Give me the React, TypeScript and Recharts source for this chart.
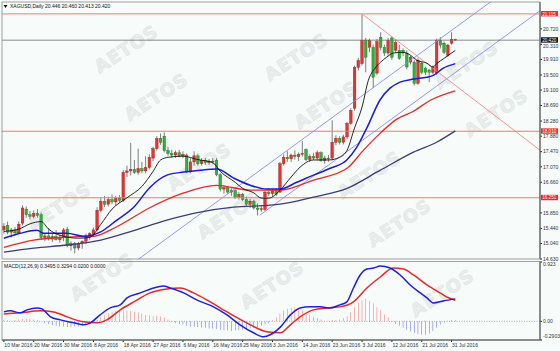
import React from "react";
import { ComposedChart, Bar, Line, XAxis, YAxis, ReferenceLine, Cell } from "recharts";

// daily candles, [open, high, low, close]
const candles: [number, number, number, number][] = [
  [15.40, 15.58, 15.30, 15.50], [15.52, 15.62, 15.28, 15.34], [15.34, 15.45, 15.20, 15.40], [15.40, 15.48, 15.25, 15.32],
  [15.32, 15.62, 15.30, 15.55], [15.58, 16.05, 15.52, 15.98], [15.95, 16.02, 15.72, 15.80], [15.80, 15.90, 15.68, 15.76],
  [15.76, 15.92, 15.70, 15.84], [15.84, 15.95, 15.72, 15.78], [15.80, 15.86, 15.15, 15.20], [15.20, 15.30, 15.10, 15.24],
  [15.24, 15.45, 15.12, 15.16], [15.16, 15.30, 15.08, 15.22], [15.22, 15.40, 15.12, 15.14], [15.14, 15.28, 15.06, 15.20],
  [15.20, 15.45, 15.10, 15.40], [15.42, 15.48, 14.94, 14.98], [14.98, 15.10, 14.85, 15.04], [15.04, 15.08, 14.78, 14.92],
  [14.92, 15.08, 14.86, 15.04], [15.04, 15.12, 14.90, 15.10], [15.10, 15.30, 15.02, 15.24], [15.24, 15.34, 15.14, 15.30],
  [15.30, 15.46, 15.22, 15.40], [15.40, 16.00, 15.36, 15.92], [15.92, 16.26, 15.86, 16.16], [16.16, 16.30, 16.00, 16.08],
  [16.08, 16.28, 16.02, 16.20], [16.20, 16.34, 16.08, 16.14], [16.14, 16.30, 16.04, 16.24], [16.24, 16.32, 16.12, 16.18],
  [16.18, 16.98, 16.14, 16.92], [16.92, 17.10, 16.80, 16.96], [16.96, 17.70, 16.84, 17.00], [17.00, 17.25, 16.88, 16.92],
  [16.92, 17.55, 16.86, 17.02], [17.02, 17.20, 16.90, 16.96], [16.96, 17.35, 16.90, 17.05], [17.05, 17.40, 17.00, 17.32],
  [17.30, 17.60, 17.22, 17.55], [17.55, 17.88, 17.50, 17.82], [17.82, 17.95, 17.65, 17.72], [17.88, 17.98, 17.45, 17.50],
  [17.50, 17.60, 17.36, 17.42], [17.42, 17.52, 17.30, 17.38], [17.38, 17.50, 17.30, 17.44], [17.44, 17.52, 17.32, 17.36],
  [17.36, 17.48, 17.30, 17.40], [17.38, 17.42, 16.90, 16.95], [16.95, 17.30, 16.90, 17.20], [17.20, 17.48, 17.10, 17.36],
  [17.36, 17.42, 17.10, 17.15], [17.15, 17.30, 17.10, 17.24], [17.24, 17.30, 17.12, 17.18], [17.18, 17.28, 17.12, 17.22],
  [17.22, 17.30, 17.14, 17.20], [17.24, 17.30, 16.82, 16.86], [16.86, 16.90, 16.42, 16.48], [16.48, 16.58, 16.36, 16.52],
  [16.52, 16.56, 16.36, 16.40], [16.40, 16.50, 16.30, 16.44], [16.44, 16.48, 16.22, 16.26], [16.26, 16.40, 16.20, 16.34],
  [16.34, 16.38, 16.16, 16.20], [16.20, 16.28, 16.02, 16.08], [16.08, 16.22, 15.98, 16.16], [16.16, 16.20, 15.94, 15.98],
  [15.98, 16.10, 15.78, 15.94], [15.94, 16.04, 15.88, 15.96], [15.94, 16.44, 15.90, 16.40], [16.40, 16.50, 16.30, 16.36],
  [16.36, 16.48, 16.28, 16.44], [16.44, 16.50, 16.30, 16.34], [16.40, 17.20, 16.38, 17.15], [17.15, 17.40, 17.10, 17.32],
  [17.32, 17.48, 17.20, 17.28], [17.28, 17.42, 17.20, 17.38], [17.38, 17.50, 17.26, 17.34], [17.34, 17.45, 17.22, 17.40],
  [17.40, 17.75, 17.34, 17.42], [17.52, 17.56, 17.22, 17.26], [17.26, 17.40, 17.20, 17.34], [17.34, 17.44, 17.25, 17.30],
  [17.30, 17.50, 17.24, 17.44], [17.44, 17.48, 17.20, 17.24], [17.24, 17.36, 17.15, 17.30], [17.30, 17.38, 17.20, 17.28],
  [17.30, 18.30, 17.24, 17.72], [17.72, 17.90, 17.64, 17.82], [17.82, 17.88, 17.66, 17.72], [17.72, 17.92, 17.66, 17.86],
  [17.86, 18.26, 17.80, 18.22], [18.22, 18.62, 18.18, 18.56], [18.62, 19.75, 18.55, 19.70], [19.70, 19.95, 19.62, 19.88],
  [19.80, 21.10, 19.75, 20.42], [20.42, 20.48, 19.57, 19.97], [20.23, 20.46, 20.10, 20.42], [20.23, 20.30, 19.15, 19.44],
  [19.55, 20.45, 19.50, 20.38], [20.50, 20.63, 20.15, 20.23], [20.23, 20.30, 20.00, 20.08], [20.08, 20.48, 20.00, 20.42],
  [20.48, 20.52, 19.90, 19.97], [20.15, 20.42, 20.08, 20.36], [20.15, 20.30, 19.90, 19.94], [20.15, 20.20, 20.00, 20.08],
  [20.08, 20.15, 19.65, 19.71], [19.84, 20.00, 19.78, 19.97], [19.84, 19.90, 19.22, 19.28], [19.28, 19.95, 19.24, 19.89],
  [19.81, 19.85, 19.52, 19.57], [19.68, 19.72, 19.50, 19.57], [19.63, 19.66, 19.31, 19.57], [19.57, 19.75, 19.52, 19.71],
  [19.55, 20.46, 19.50, 20.42], [20.42, 20.50, 20.20, 20.29], [20.34, 20.38, 20.05, 20.10], [20.02, 20.32, 19.98, 20.29],
  [20.34, 20.63, 20.30, 20.44], [20.446, 20.46, 20.413, 20.42],
];

const dateTicks = [0, 8, 16, 24, 32, 40, 48, 56, 64, 72, 80, 88, 96, 104, 112, 120];
const dateLabels = [
  "10 Mar 2016", "20 Mar 2016", "30 Mar 2016", "8 Apr 2016", "18 Apr 2016", "27 Apr 2016", "6 May 2016", "16 May 2016",
  "25 May 2016", "3 Jun 2016", "14 Jun 2016", "23 Jun 2016", "3 Jul 2016", "12 Jul 2016", "21 Jul 2016", "31 Jul 2016",
];

const priceTicks = [14.63, 15.04, 15.44, 15.85, 16.66, 17.07, 17.47, 17.88, 18.28, 18.69, 19.1, 19.5, 19.91, 20.31, 20.72];
const macdTicks = [-0.2903, 0, 0.923];

// moving averages, [bar, value]
const maFast: [number, number][] = [
  [0, 15.36], [4, 15.42], [7, 15.56], [10, 15.62], [12, 15.42], [15, 15.26], [20, 15.18], [23, 15.2], [26, 15.55],
  [29, 15.95], [33, 16.25], [37, 16.55], [40, 16.95], [42, 17.25], [44, 17.32], [48, 17.35], [52, 17.26], [56, 17.18],
  [58, 16.95], [62, 16.66], [64, 16.5], [67, 16.38], [69, 16.24], [71, 16.24], [74, 16.45], [77, 16.8], [79.4, 17.06],
  [83, 17.25], [87, 17.25], [90, 17.32], [92, 17.51], [94, 18.1], [96, 18.65], [97.7, 19.36], [99.5, 19.68], [101, 19.84],
  [102.6, 19.97], [104.4, 20.08], [107, 20.1], [109, 20.02], [110.7, 19.89], [113.4, 19.81], [115, 19.71], [116, 19.8],
  [118, 19.94], [121, 20.15],
];
const maMid: [number, number][] = [
  [0, 15.18], [4.4, 15.31], [8.9, 15.39], [10.7, 15.31], [16.9, 15.31], [21.4, 15.23], [25.8, 15.34], [30.3, 15.66],
  [34.8, 16.0], [39.2, 16.53], [43.7, 16.85], [48.2, 16.93], [52.6, 16.98], [57.1, 17.01], [61.6, 16.77], [66, 16.58],
  [70.5, 16.48], [74.1, 16.48], [78.5, 16.66], [83, 16.85], [87.5, 17.03], [91.9, 17.25], [94.6, 17.59], [97.3, 18.1],
  [100.9, 18.85], [103.5, 19.15], [106.2, 19.31], [109.8, 19.39], [113.4, 19.44], [115.1, 19.49], [117.8, 19.68], [121, 19.8],
];
const maSlow: [number, number][] = [
  [0, 14.94], [8, 15.13], [17, 15.21], [24, 15.23], [30, 15.47], [39, 15.98], [48, 16.37], [57, 16.58], [66, 16.45],
  [74, 16.45], [83, 16.72], [92, 17.03], [96.4, 17.51], [100.9, 17.96], [105.3, 18.33], [109.8, 18.54], [114.3, 18.83],
  [121, 19.08],
];
const maLong: [number, number][] = [
  [0, 14.81], [8, 14.92], [17, 15.0], [26, 15.13], [35, 15.39], [43.7, 15.66], [52.6, 15.87], [61.6, 16.0], [70.5, 16.05],
  [74, 16.08], [83, 16.27], [92, 16.5], [100.9, 16.98], [109.8, 17.46], [116, 17.72], [121, 18.02],
];

// MACD(12,26,9)
const macdMain: [number, number][] = [
  [0, 0.147], [1.7, 0.163], [4.4, 0.132], [6.2, 0.178], [8.9, 0.209], [10.2, 0.194], [12.5, 0.07], [15.1, 0.023],
  [18.7, -0.023], [21.4, -0.054], [23.2, -0.023], [25.8, 0.1], [28.5, 0.209], [31.2, 0.256], [33, 0.364], [36.6, 0.442],
  [40.1, 0.519], [42.8, 0.55], [44.6, 0.519], [48.2, 0.442], [51.7, 0.333], [56.2, 0.225], [59.8, 0.1], [63.3, -0.054],
  [66.9, -0.178], [69.6, -0.24], [71.4, -0.209], [74.1, -0.09], [76.8, 0.1], [79.4, 0.209], [82.1, 0.225], [84.8, 0.225],
  [87.5, 0.209], [90.1, 0.256], [91.9, 0.302], [93.7, 0.519], [95.5, 0.721], [97.3, 0.814], [99.1, 0.829], [100.9, 0.86],
  [103.5, 0.829], [106.2, 0.721], [108.9, 0.566], [111.6, 0.442], [113.4, 0.364], [115.1, 0.287], [117.8, 0.318],
  [121, 0.3495],
];
const macdSignal: [number, number][] = [
  [0, 0.116], [4.4, 0.132], [9.8, 0.163], [13.3, 0.147], [16.9, 0.07], [21.4, -0.008], [25, -0.023], [27.6, 0.023],
  [31.2, 0.178], [34.8, 0.302], [39.2, 0.442], [43.7, 0.504], [47.3, 0.519], [50.8, 0.442], [54.4, 0.333], [59.8, 0.147],
  [65.1, -0.023], [70.5, -0.163], [74.1, -0.178], [76.8, -0.054], [79.4, 0.07], [83, 0.178], [86.6, 0.209], [90.1, 0.225],
  [93.7, 0.302], [97.3, 0.519], [100.9, 0.69], [104.4, 0.829], [107.1, 0.814], [109.8, 0.721], [113.4, 0.566],
  [116.9, 0.442], [119, 0.37], [121, 0.3294],
];
const histogram = [
  0.03, 0.02, 0.01, 0.02, 0.03, 0.04, 0.04, 0.04, 0.03, 0.02, 0.0, -0.03,
  -0.04, -0.06, -0.07, -0.08, -0.08, -0.09, -0.09, -0.08, -0.08, -0.07, -0.06, -0.05, -0.03,
  0.02, 0.06, 0.1, 0.13, 0.15, 0.16, 0.16, 0.17, 0.17, 0.16, 0.15, 0.14, 0.12, 0.1, 0.09, 0.08, 0.09, 0.08, 0.06, 0.03,
  -0.01, -0.03, -0.04, -0.05, -0.07, -0.08, -0.08, -0.09, -0.1, -0.1, -0.11, -0.11, -0.12, -0.13, -0.14, -0.14, -0.15,
  -0.14, -0.14, -0.13, -0.12, -0.11, -0.1, -0.09, -0.07, -0.05, -0.03, 0.02,
  0.06, 0.12, 0.17, 0.2, 0.21, 0.21, 0.2, 0.17, 0.14, 0.1, 0.07, 0.05, 0.03,
  0.01, 0.01, 0.02, 0.02, 0.03, 0.05,
  0.08, 0.14, 0.22, 0.29, 0.33, 0.35, 0.32, 0.28, 0.22, 0.17, 0.11, 0.06,
  -0.01, -0.04, -0.07, -0.1, -0.13, -0.16, -0.18, -0.2, -0.21, -0.21, -0.19, -0.15, -0.1, -0.05, -0.02,
  0.01, 0.02, 0.02,
];

// chart objects
const redLevels = [21.115, 18.01, 16.251];
const redLevelLabels = ["21.115", "18.010", "16.251"];
const bidPrice = 20.42;
const channelUpper: [number, number][] = [[35.7, 14.6], [131.1, 21.48]];
const channelLower: [number, number][] = [[68.6, 15.79], [143.7, 21.2]];
const fallLine: [number, number][] = [[96, 21.115], [143.7, 17.51]];

// broker watermark: tile origin and the two step vectors of the tiling
const markOrigin = [142, 74];
const markSteps = [[170, 8], [73, 118]];
const markText = "AETOS";

const X_DOMAIN: [number, number] = [-0.5, 143.7];
const FONT = "'Liberation Sans', Arial, sans-serif";

const candleRows = candles.map(([o, h, l, c], i) => ({ i, o, h, l, c, range: [l, h] }));
const histRows = histogram.map((v, i) => ({ i, v }));
const pts = (a: [number, number][]) => a.map(([i, v]) => ({ i, v }));
const seg = (a: [number, number][]) => a.map(([x, y]) => ({ x, y }));

// keep only the watermark copies that fit wholly on the page
const markSpots: [number, number][] = [];
for (let a = -2; a <= 3; a++) {
  for (let b = -2; b <= 3; b++) {
    const px = markOrigin[0] + a * markSteps[0][0] + b * markSteps[1][0];
    const py = markOrigin[1] + a * markSteps[0][1] + b * markSteps[1][1];
    for (const d of [-1, 1]) {
      const sx = px + d * 15;
      const sy = py + d * 24;
      if (sx > 36 && sx < 524 && sy > 28 && sy < 323) markSpots.push([sx, sy]);
    }
  }
}

const Candle = (props: any) => {
  const { x, y, width, height, payload } = props;
  const { o, h, l, c } = payload;
  const top = height < 0 ? y + height : y;
  const hh = Math.abs(height);
  const span = h - l || 1;
  const py = (v: number) => top + ((h - v) / span) * hh;
  const cx = x + width / 2;
  const up = c >= o;
  const b1 = py(Math.max(o, c));
  const b2 = py(Math.min(o, c));
  return (
    <g>
      <line x1={cx} x2={cx} y1={top} y2={top + hh} stroke="#606060" strokeWidth={0.8} />
      <rect
        x={cx - 1.3}
        y={b1}
        width={2.6}
        height={Math.max(b2 - b1, 0.8)}
        fill={up ? "#e8322f" : "#2eb23a"}
        stroke={up ? "#9a1a18" : "#18741f"}
        strokeWidth={0.4}
      />
    </g>
  );
};

const PriceTag = (props: any) => {
  const { viewBox, text, color } = props;
  if (!viewBox) return null;
  const x = viewBox.x + viewBox.width + 1;
  const y = viewBox.y;
  return (
    <g>
      <rect x={x} y={y - 2.9} width={17} height={5.4} fill={color} />
      <text x={x + 1.2} y={y + 1.6} fontSize={4.6} fill="#fff" fontFamily={FONT}>{text}</text>
    </g>
  );
};

const PriceTick = (props: any) => {
  const { x, y, payload } = props;
  const v = payload.value;
  // the label just under the bid tag sits a little lower, as in the terminal
  const dy = Math.abs(v - bidPrice) < 0.15 ? 3.6 : 1.8;
  return (
    <text x={x} y={y + dy} fontSize={5} fill="#333" fontFamily={FONT}>{v.toFixed(3)}</text>
  );
};

const MacdTick = (props: any) => {
  const { x, y, payload } = props;
  const v = payload.value;
  const label = v === 0 ? "0.00" : v > 0 ? "0.923" : "-0.2903";
  const dy = v > 0.5 ? 3.5 : v < 0 ? -2.5 : 1.8;
  return (
    <text x={x} y={y + dy} fontSize={5} fill="#333" fontFamily={FONT}>{label}</text>
  );
};

const DateTick = (props: any) => {
  const { x, y, payload } = props;
  const k = dateTicks.indexOf(payload.value);
  return (
    <text x={x + 0.5} y={y + 4} fontSize={5} fill="#333" fontFamily={FONT}>{dateLabels[k]}</text>
  );
};

export default function App() {
  return (
    <div
      style={{
        position: "absolute",
        left: 0,
        top: 0,
        width: 560,
        height: 351,
        background: "#f7fbf9",
        overflow: "hidden",
        fontFamily: FONT,
      }}
    >
      <svg width={560} height={351} style={{ position: "absolute", left: 0, top: 0 }}>
        {markSpots.map(([sx, sy], k) => (
          <text
            key={k}
            x={sx}
            y={sy}
            textAnchor="middle"
            dominantBaseline="middle"
            fontSize={18}
            fontWeight="bold"
            letterSpacing={1}
            fill="#e9edec"
            stroke="#e0e5e4"
            strokeWidth={0.6}
            transform={`rotate(-33 ${sx} ${sy})`}
            fontFamily="'DejaVu Sans', sans-serif"
          >
            {markText}
          </text>
        ))}
      </svg>

      <div style={{ position: "absolute", left: 0, top: 0 }}>
        <ComposedChart width={560} height={262} data={candleRows} margin={{ top: 2, right: 0, bottom: 3, left: 2 }}>
          <XAxis dataKey="i" type="number" domain={X_DOMAIN} allowDataOverflow hide />
          <YAxis
            orientation="right"
            width={20}
            type="number"
            domain={[14.63, 21.43]}
            allowDataOverflow
            ticks={priceTicks}
            interval={0}
            tick={<PriceTick />}
            tickSize={2}
            tickMargin={1}
            axisLine={{ stroke: "#222" }}
            tickLine={{ stroke: "#222" }}
          />
          <ReferenceLine segment={seg(channelUpper)} stroke="#8c8cf2" strokeWidth={0.9} ifOverflow="hidden" />
          <ReferenceLine segment={seg(channelLower)} stroke="#8c8cf2" strokeWidth={0.9} ifOverflow="hidden" />
          <ReferenceLine segment={seg(fallLine)} stroke="#f08a8a" strokeWidth={0.9} ifOverflow="hidden" />
          {redLevels.map((v, k) => (
            <ReferenceLine
              key={v}
              y={v}
              stroke="#f07a7a"
              strokeWidth={1}
              label={<PriceTag text={redLevelLabels[k]} color="#ee2a2a" />}
            />
          ))}
          <ReferenceLine y={bidPrice} stroke="#707070" strokeWidth={0.8} label={<PriceTag text="20.420" color="#111" />} />
          <Line data={pts(maLong)} dataKey="v" type="monotone" stroke="#3c3c78" strokeWidth={1.3} dot={false} isAnimationActive={false} />
          <Line data={pts(maSlow)} dataKey="v" type="monotone" stroke="#e82828" strokeWidth={1.3} dot={false} isAnimationActive={false} />
          <Line data={pts(maMid)} dataKey="v" type="monotone" stroke="#1a1ad8" strokeWidth={1.5} dot={false} isAnimationActive={false} />
          <Bar dataKey="range" barSize={3} shape={<Candle />} isAnimationActive={false} />
          <Line data={pts(maFast)} dataKey="v" type="monotone" stroke="#111" strokeWidth={0.9} dot={false} isAnimationActive={false} />
        </ComposedChart>
      </div>

      <div style={{ position: "absolute", left: 0, top: 259 }}>
        <ComposedChart width={560} height={92} data={histRows} margin={{ top: 3, right: 0, bottom: 0, left: 2 }}>
          <XAxis
            dataKey="i"
            type="number"
            domain={X_DOMAIN}
            allowDataOverflow
            ticks={dateTicks}
            interval={0}
            tick={<DateTick />}
            height={11}
            tickSize={2}
            tickMargin={1}
            axisLine={{ stroke: "#222" }}
            tickLine={{ stroke: "#222" }}
          />
          <YAxis
            orientation="right"
            width={20}
            type="number"
            domain={[-0.2903, 0.923]}
            allowDataOverflow
            ticks={macdTicks}
            interval={0}
            tick={<MacdTick />}
            tickSize={2}
            tickMargin={1}
            axisLine={{ stroke: "#222" }}
            tickLine={{ stroke: "#222" }}
          />
          <ReferenceLine y={0} stroke="#9a9a9a" strokeWidth={0.8} strokeDasharray="1 1.5" />
          <Bar dataKey="v" barSize={2} isAnimationActive={false}>
            {histRows.map((r) => (
              <Cell key={r.i} fill={r.v >= 0 ? "#f02c2c" : "#1c1cd4"} />
            ))}
          </Bar>
          <Line data={pts(macdSignal)} dataKey="v" type="monotone" stroke="#e82828" strokeWidth={1.5} dot={false} isAnimationActive={false} />
          <Line data={pts(macdMain)} dataKey="v" type="monotone" stroke="#1e1ee0" strokeWidth={1.5} dot={false} isAnimationActive={false} />
        </ComposedChart>
      </div>

      <svg width={560} height={351} style={{ position: "absolute", left: 0, top: 0, pointerEvents: "none" }}>
        <rect x={2} y={2} width={538} height={257} fill="none" stroke="#8a8a8a" strokeWidth={0.8} />
        <rect x={2} y={261.5} width={538} height={78.5} fill="none" stroke="#8a8a8a" strokeWidth={0.8} />
        <path d="M3.5 5 L7.5 5 L5.5 8 Z" fill="#111" />
        <text x={10} y={8} fontSize={5} fill="#111" fontFamily={FONT}>XAGUSD,Daily  20.446 20.460 20.413 20.420</text>
        <text x={4} y={268} fontSize={5} fill="#111" fontFamily={FONT}>MACD(12,26,9) 0.3495 0.3294 0.0200 0.0000</text>
      </svg>
    </div>
  );
}
